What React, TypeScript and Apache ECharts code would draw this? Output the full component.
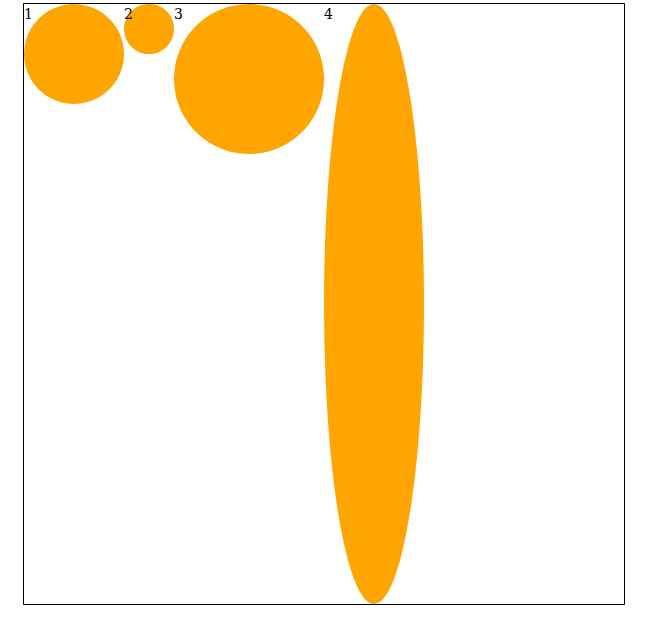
import React, { useEffect, useRef } from "react";
import * as echarts from "echarts";

const names = ["1", "2", "3", "4"];
const widths = [100, 50, 150, 100];
const heights = [100, 50, 150, 600];

export default function App() {
  const ref = useRef<HTMLDivElement>(null);
  useEffect(() => {
    document.body.style.margin = "0";
    const chart = echarts.init(ref.current!, undefined, { renderer: "svg" });
    let offset = 0;
    const data = names.map((n, i) => {
      const cx = offset + widths[i] / 2;
      offset += widths[i];
      return { name: n, value: [cx, heights[i] / 2], symbolSize: [widths[i], heights[i]] };
    });
    chart.setOption({
      animation: false,
      grid: { left: 24, top: 4, width: 600, height: 600, show: false },
      xAxis: { type: "value", min: 0, max: 600, show: false },
      yAxis: { type: "value", min: 0, max: 600, inverse: true, show: false },
      graphic: [
        {
          type: "rect",
          shape: { x: 23.5, y: 3.5, width: 601, height: 601 },
          style: { fill: "none", stroke: "#000", lineWidth: 1 },
          silent: true,
          z: 10,
        },
      ],
      series: [
        {
          type: "scatter",
          data,
          symbol: "circle",
          itemStyle: { color: "#FFA500", opacity: 1 },
          label: {
            show: true,
            position: [0, 3],
            formatter: (p: any) => p.name,
            color: "#000",
            fontFamily: "DejaVu Serif",
            fontSize: 14,
            align: "left",
            verticalAlign: "top",
          },
          emphasis: { disabled: true },
        },
      ],
    });
    return () => chart.dispose();
  }, []);
  return <div ref={ref} style={{ width: 646, height: 618 }} />;
}
